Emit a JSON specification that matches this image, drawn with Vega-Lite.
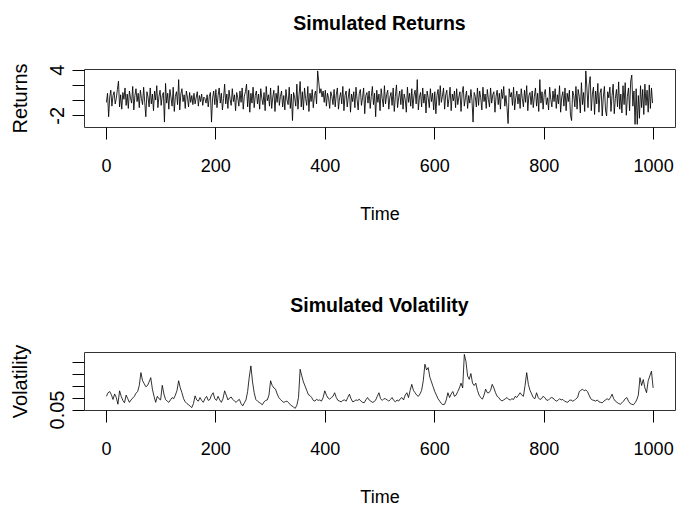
{
"$schema": "https://vega.github.io/schema/vega-lite/v6.json",
"background": "white",
"padding": {"left": 9, "top": 13, "right": 5, "bottom": 5},
"spacing": 71,
"config": {
  "view": {"stroke": "#333", "strokeWidth": 1},
  "axis": {"grid": false, "domain": false, "tickColor": "#000", "tickSize": 12, "labelColor": "#000", "titleColor": "#000", "titleFontWeight": "normal"},
  "axisX": {"labelFont": "Liberation Sans", "labelFontSize": 18, "labelPadding": 18, "titleFont": "Liberation Sans", "titleFontSize": 18, "titleY": 92, "titleBaseline": "alphabetic", "labelFlush": false, "format": "d"},
  "axisY": {"labelFont": "Liberation Sans", "labelFontSize": 20, "labelAngle": -90, "labelAlign": "center", "labelBaseline": "bottom", "labelPadding": 5, "titleFont": "Liberation Sans", "titleFontSize": 20, "titleAngle": -90, "titleAlign": "center", "titleBaseline": "middle", "titleX": -64, "titleY": 29}
},
"datasets": {
"ret": [
{"t":1,"r":-0.3},{"t":3,"r":0.9},{"t":5,"r":-2.2},{"t":7,"r":0.4},{"t":9,"r":1.3},{"t":11,"r":-0.8},{"t":13,"r":0.6},{"t":15,"r":1.1},{"t":17,"r":-0.5},{"t":19,"r":0.2},
{"t":21,"r":1.4},{"t":23,"r":2.5},{"t":25,"r":-0.9},{"t":27,"r":0.7},{"t":29,"r":-1.2},{"t":31,"r":1.0},{"t":33,"r":0.1},{"t":35,"r":1.6},{"t":37,"r":-0.7},{"t":39,"r":0.8},
{"t":41,"r":-1.1},{"t":43,"r":1.2},{"t":45,"r":0.3},{"t":47,"r":-0.4},{"t":49,"r":1.8},{"t":51,"r":-1.3},{"t":53,"r":0.6},{"t":55,"r":1.5},{"t":57,"r":-0.2},{"t":59,"r":0.9},
{"t":61,"r":-1.0},{"t":63,"r":1.3},{"t":65,"r":0.2},{"t":67,"r":-0.6},{"t":69,"r":1.7},{"t":71,"r":-0.3},{"t":73,"r":-2.2},{"t":75,"r":1.1},{"t":77,"r":0.4},{"t":79,"r":-0.9},
{"t":81,"r":1.6},{"t":83,"r":-0.5},{"t":85,"r":0.8},{"t":87,"r":-1.4},{"t":89,"r":1.2},{"t":91,"r":0.0},{"t":93,"r":1.9},{"t":95,"r":-1.0},{"t":97,"r":0.5},{"t":99,"r":1.3},
{"t":101,"r":-0.7},{"t":103,"r":0.6},{"t":105,"r":1.0},{"t":107,"r":-2.9},{"t":109,"r":2.2},{"t":111,"r":-0.4},{"t":113,"r":0.9},{"t":115,"r":-1.2},{"t":117,"r":1.4},{"t":119,"r":0.3},
{"t":121,"r":-0.8},{"t":123,"r":1.7},{"t":125,"r":-1.5},{"t":127,"r":0.5},{"t":129,"r":1.1},{"t":131,"r":-0.6},{"t":133,"r":2.7},{"t":135,"r":-1.3},{"t":137,"r":0.8},{"t":139,"r":1.5},
{"t":141,"r":-0.2},{"t":143,"r":0.7},{"t":145,"r":-1.1},{"t":147,"r":1.2},{"t":149,"r":0.4},{"t":151,"r":-0.9},{"t":153,"r":1.0},{"t":155,"r":-0.3},{"t":157,"r":0.6},{"t":159,"r":-0.6},
{"t":161,"r":0.9},{"t":163,"r":-0.5},{"t":165,"r":0.3},{"t":167,"r":1.1},{"t":169,"r":-0.8},{"t":171,"r":0.6},{"t":173,"r":-0.2},{"t":175,"r":0.8},{"t":177,"r":-0.7},{"t":179,"r":0.4},
{"t":181,"r":0.2},{"t":183,"r":-0.4},{"t":185,"r":0.7},{"t":187,"r":-0.9},{"t":189,"r":0.5},{"t":191,"r":1.0},{"t":193,"r":-2.9},{"t":195,"r":0.3},{"t":197,"r":1.2},{"t":199,"r":-0.6},
{"t":201,"r":1.4},{"t":203,"r":-1.0},{"t":205,"r":0.6},{"t":207,"r":1.6},{"t":209,"r":-0.4},{"t":211,"r":0.9},{"t":213,"r":-1.3},{"t":215,"r":0.2},{"t":217,"r":2.1},{"t":219,"r":-0.5},
{"t":221,"r":0.8},{"t":223,"r":-1.1},{"t":225,"r":1.3},{"t":227,"r":0.1},{"t":229,"r":-0.7},{"t":231,"r":1.5},{"t":233,"r":-0.2},{"t":235,"r":0.7},{"t":237,"r":-1.4},{"t":239,"r":1.0},
{"t":241,"r":0.3},{"t":243,"r":-0.8},{"t":245,"r":1.2},{"t":247,"r":-0.3},{"t":249,"r":1.6},{"t":251,"r":-1.2},{"t":253,"r":0.5},{"t":255,"r":1.1},{"t":257,"r":2.1},{"t":259,"r":-0.9},
{"t":261,"r":1.3},{"t":263,"r":-1.6},{"t":265,"r":0.9},{"t":267,"r":-0.4},{"t":269,"r":1.7},{"t":271,"r":-1.0},{"t":273,"r":0.6},{"t":275,"r":1.2},{"t":277,"r":-0.5},{"t":279,"r":0.8},
{"t":281,"r":-1.2},{"t":283,"r":1.5},{"t":285,"r":0.2},{"t":287,"r":-0.6},{"t":289,"r":1.0},{"t":291,"r":-1.4},{"t":293,"r":1.8},{"t":295,"r":-0.1},{"t":297,"r":0.7},{"t":299,"r":-0.8},
{"t":301,"r":1.6},{"t":303,"r":-1.1},{"t":305,"r":0.4},{"t":307,"r":1.3},{"t":309,"r":-1.5},{"t":311,"r":0.9},{"t":313,"r":-0.3},{"t":315,"r":1.9},{"t":317,"r":-0.7},{"t":319,"r":0.5},
{"t":321,"r":1.2},{"t":323,"r":-0.9},{"t":325,"r":0.6},{"t":327,"r":-1.3},{"t":329,"r":1.4},{"t":331,"r":0.0},{"t":333,"r":-0.6},{"t":335,"r":1.7},{"t":337,"r":-1.1},{"t":339,"r":0.8},
{"t":341,"r":-2.7},{"t":343,"r":1.0},{"t":345,"r":0.3},{"t":347,"r":-0.8},{"t":349,"r":2.1},{"t":351,"r":-1.2},{"t":353,"r":0.7},{"t":355,"r":2.45},{"t":357,"r":-0.9},{"t":359,"r":1.1},
{"t":361,"r":-1.3},{"t":363,"r":1.6},{"t":365,"r":0.2},{"t":367,"r":-0.7},{"t":369,"r":1.8},{"t":371,"r":-1.5},{"t":373,"r":0.9},{"t":375,"r":-0.2},{"t":377,"r":1.4},{"t":379,"r":-1.0},
{"t":381,"r":0.6},{"t":383,"r":1.2},{"t":385,"r":-0.5},{"t":387,"r":3.85},{"t":389,"r":2.4},{"t":391,"r":0.9},{"t":393,"r":1.5},{"t":395,"r":0.4},{"t":397,"r":1.2},{"t":399,"r":-0.3},
{"t":401,"r":1.3},{"t":403,"r":-0.8},{"t":405,"r":0.9},{"t":407,"r":0.2},{"t":409,"r":-1.1},{"t":411,"r":1.1},{"t":413,"r":0.5},{"t":415,"r":-0.6},{"t":417,"r":1.4},{"t":419,"r":-0.9},
{"t":421,"r":0.7},{"t":423,"r":1.6},{"t":425,"r":-1.2},{"t":427,"r":0.3},{"t":429,"r":1.0},{"t":431,"r":-0.5},{"t":433,"r":1.8},{"t":435,"r":-1.4},{"t":437,"r":0.6},{"t":439,"r":1.2},
{"t":441,"r":-0.9},{"t":443,"r":0.4},{"t":445,"r":1.5},{"t":447,"r":-1.6},{"t":449,"r":0.8},{"t":451,"r":-0.2},{"t":453,"r":1.1},{"t":455,"r":-1.0},{"t":457,"r":1.7},{"t":459,"r":0.1},
{"t":461,"r":-1.3},{"t":463,"r":0.9},{"t":465,"r":1.4},{"t":467,"r":-0.7},{"t":469,"r":0.3},{"t":471,"r":1.6},{"t":473,"r":-1.8},{"t":475,"r":0.6},{"t":477,"r":1.0},{"t":479,"r":-0.4},
{"t":481,"r":1.2},{"t":483,"r":-1.1},{"t":485,"r":0.5},{"t":487,"r":1.8},{"t":489,"r":-0.6},{"t":491,"r":0.9},{"t":493,"r":-2.2},{"t":495,"r":1.3},{"t":497,"r":-0.3},{"t":499,"r":0.8},
{"t":501,"r":-1.4},{"t":503,"r":1.5},{"t":505,"r":0.2},{"t":507,"r":-0.9},{"t":509,"r":1.9},{"t":511,"r":-0.5},{"t":513,"r":0.7},{"t":515,"r":1.3},{"t":517,"r":-1.2},{"t":519,"r":0.4},
{"t":521,"r":1.0},{"t":523,"r":-0.7},{"t":525,"r":1.6},{"t":527,"r":-1.5},{"t":529,"r":0.5},{"t":531,"r":2.0},{"t":533,"r":-1.0},{"t":535,"r":0.3},{"t":537,"r":1.2},{"t":539,"r":-0.6},
{"t":541,"r":1.4},{"t":543,"r":-1.2},{"t":545,"r":0.8},{"t":547,"r":0.1},{"t":549,"r":-1.6},{"t":551,"r":1.7},{"t":553,"r":-0.3},{"t":555,"r":0.9},{"t":557,"r":-0.8},{"t":559,"r":1.5},
{"t":561,"r":-1.1},{"t":563,"r":0.6},{"t":565,"r":1.3},{"t":567,"r":-0.5},{"t":569,"r":2.7},{"t":571,"r":-1.3},{"t":573,"r":0.4},{"t":575,"r":1.0},{"t":577,"r":-0.9},{"t":579,"r":1.6},
{"t":581,"r":-0.4},{"t":583,"r":0.8},{"t":585,"r":-1.7},{"t":587,"r":1.2},{"t":589,"r":0.3},{"t":591,"r":-1.0},{"t":593,"r":1.5},{"t":595,"r":-0.2},{"t":597,"r":0.9},{"t":599,"r":-1.3},
{"t":601,"r":1.1},{"t":603,"r":-1.8},{"t":605,"r":0.6},{"t":607,"r":1.4},{"t":609,"r":-0.7},{"t":611,"r":1.9},{"t":613,"r":-0.3},{"t":615,"r":0.5},{"t":617,"r":1.6},{"t":619,"r":-1.2},
{"t":621,"r":0.7},{"t":623,"r":1.3},{"t":625,"r":-0.9},{"t":627,"r":0.2},{"t":629,"r":1.7},{"t":631,"r":-1.4},{"t":633,"r":0.8},{"t":635,"r":-0.1},{"t":637,"r":1.2},{"t":639,"r":-1.0},
{"t":641,"r":1.5},{"t":643,"r":-0.6},{"t":645,"r":0.4},{"t":647,"r":1.1},{"t":649,"r":-1.5},{"t":651,"r":0.9},{"t":653,"r":1.8},{"t":655,"r":-0.8},{"t":657,"r":0.3},{"t":659,"r":1.2},
{"t":661,"r":-1.1},{"t":663,"r":0.6},{"t":665,"r":-0.4},{"t":667,"r":1.4},{"t":669,"r":0.0},{"t":671,"r":-2.9},{"t":673,"r":1.0},{"t":675,"r":0.5},{"t":677,"r":-0.9},{"t":679,"r":1.6},
{"t":681,"r":-0.7},{"t":683,"r":1.2},{"t":685,"r":0.3},{"t":687,"r":-1.3},{"t":689,"r":1.7},{"t":691,"r":-0.2},{"t":693,"r":0.8},{"t":695,"r":-1.1},{"t":697,"r":1.4},{"t":699,"r":0.1},
{"t":701,"r":-0.9},{"t":703,"r":1.6},{"t":705,"r":-0.4},{"t":707,"r":0.7},{"t":709,"r":1.1},{"t":711,"r":-1.6},{"t":713,"r":0.5},{"t":715,"r":1.3},{"t":717,"r":-0.6},{"t":719,"r":0.9},
{"t":721,"r":-1.2},{"t":723,"r":1.4},{"t":725,"r":0.2},{"t":727,"r":1.8},{"t":729,"r":-0.8},{"t":731,"r":0.6},{"t":733,"r":-1.0},{"t":735,"r":-3.1},{"t":737,"r":1.5},{"t":739,"r":0.4},
{"t":741,"r":1.0},{"t":743,"r":-0.7},{"t":745,"r":1.7},{"t":747,"r":-1.3},{"t":749,"r":0.3},{"t":751,"r":1.2},{"t":753,"r":-0.5},{"t":755,"r":0.8},{"t":757,"r":-1.1},{"t":759,"r":1.5},
{"t":761,"r":0.2},{"t":763,"r":-0.9},{"t":765,"r":1.3},{"t":767,"r":-0.3},{"t":769,"r":1.9},{"t":771,"r":-1.4},{"t":773,"r":0.6},{"t":775,"r":1.0},{"t":777,"r":-0.6},{"t":779,"r":1.2},
{"t":781,"r":-1.0},{"t":783,"r":0.5},{"t":785,"r":1.6},{"t":787,"r":-0.8},{"t":789,"r":0.9},{"t":791,"r":-1.5},{"t":793,"r":2.7},{"t":795,"r":-0.4},{"t":797,"r":1.1},{"t":799,"r":-1.2},
{"t":801,"r":0.8},{"t":803,"r":1.4},{"t":805,"r":-0.6},{"t":807,"r":0.3},{"t":809,"r":-1.3},{"t":811,"r":1.7},{"t":813,"r":0.1},{"t":815,"r":-0.9},{"t":817,"r":1.2},{"t":819,"r":-0.2},
{"t":821,"r":1.5},{"t":823,"r":-1.1},{"t":825,"r":0.7},{"t":827,"r":-0.5},{"t":829,"r":1.9},{"t":831,"r":-1.6},{"t":833,"r":0.4},{"t":835,"r":1.1},{"t":837,"r":-0.8},{"t":839,"r":1.6},
{"t":841,"r":-1.4},{"t":843,"r":0.9},{"t":845,"r":-0.2},{"t":847,"r":1.3},{"t":849,"r":-2.0},{"t":851,"r":-2.7},{"t":853,"r":1.2},{"t":855,"r":0.6},{"t":857,"r":-0.9},{"t":859,"r":1.8},
{"t":861,"r":-1.2},{"t":863,"r":1.4},{"t":865,"r":0.5},{"t":867,"r":-1.7},{"t":869,"r":2.3},{"t":871,"r":-0.6},{"t":873,"r":1.0},{"t":875,"r":-1.5},{"t":877,"r":3.85},{"t":879,"r":1.6},
{"t":881,"r":-1.0},{"t":883,"r":2.0},{"t":885,"r":3.1},{"t":887,"r":-1.4},{"t":889,"r":0.8},{"t":891,"r":1.7},{"t":893,"r":-1.9},{"t":895,"r":1.2},{"t":897,"r":-0.5},{"t":899,"r":2.2},
{"t":901,"r":-1.6},{"t":903,"r":0.9},{"t":905,"r":1.5},{"t":907,"r":-2.1},{"t":909,"r":0.4},{"t":911,"r":1.8},{"t":913,"r":-1.3},{"t":915,"r":-2.1},{"t":917,"r":1.1},{"t":919,"r":0.3},
{"t":921,"r":1.7},{"t":923,"r":-1.5},{"t":925,"r":0.6},{"t":927,"r":2.1},{"t":929,"r":-1.8},{"t":931,"r":0.2},{"t":933,"r":1.4},{"t":935,"r":-0.9},{"t":937,"r":2.4},{"t":939,"r":-1.2},
{"t":941,"r":0.8},{"t":943,"r":-1.7},{"t":945,"r":1.9},{"t":947,"r":-0.6},{"t":949,"r":2.3},{"t":951,"r":-2.0},{"t":953,"r":0.5},{"t":955,"r":1.6},{"t":957,"r":-1.4},{"t":959,"r":2.5},
{"t":961,"r":3.3},{"t":963,"r":-0.8},{"t":965,"r":1.2},{"t":967,"r":-3.2},{"t":969,"r":1.5},{"t":971,"r":-3.2},{"t":973,"r":0.6},{"t":975,"r":-2.4},{"t":977,"r":1.9},{"t":979,"r":-1.0},
{"t":981,"r":1.4},{"t":983,"r":-1.9},{"t":985,"r":2.1},{"t":987,"r":-0.7},{"t":989,"r":1.3},{"t":991,"r":-1.6},{"t":993,"r":2.0},{"t":995,"r":-1.1},{"t":997,"r":1.6},{"t":999,"r":-0.4}
],
"vol": [
{"t":1,"v":0.105},{"t":4,"v":0.12},{"t":7,"v":0.125},{"t":10,"v":0.112},{"t":13,"v":0.092},{"t":16,"v":0.115},{"t":19,"v":0.1},{"t":22,"v":0.072},{"t":25,"v":0.128},{"t":28,"v":0.105},
{"t":31,"v":0.088},{"t":34,"v":0.078},{"t":37,"v":0.11},{"t":40,"v":0.095},{"t":43,"v":0.08},{"t":46,"v":0.09},{"t":49,"v":0.098},{"t":52,"v":0.105},{"t":55,"v":0.118},{"t":58,"v":0.125},
{"t":61,"v":0.15},{"t":64,"v":0.204},{"t":67,"v":0.17},{"t":70,"v":0.158},{"t":73,"v":0.145},{"t":76,"v":0.15},{"t":79,"v":0.165},{"t":82,"v":0.183},{"t":85,"v":0.135},{"t":88,"v":0.105},
{"t":91,"v":0.08},{"t":94,"v":0.105},{"t":97,"v":0.095},{"t":100,"v":0.09},{"t":103,"v":0.151},{"t":106,"v":0.115},{"t":109,"v":0.092},{"t":112,"v":0.085},{"t":115,"v":0.08},{"t":118,"v":0.09},
{"t":121,"v":0.1},{"t":124,"v":0.095},{"t":127,"v":0.11},{"t":130,"v":0.13},{"t":133,"v":0.17},{"t":136,"v":0.14},{"t":139,"v":0.12},{"t":142,"v":0.095},{"t":145,"v":0.082},{"t":148,"v":0.075},
{"t":151,"v":0.07},{"t":154,"v":0.064},{"t":157,"v":0.058},{"t":160,"v":0.075},{"t":163,"v":0.107},{"t":166,"v":0.09},{"t":169,"v":0.085},{"t":172,"v":0.1},{"t":175,"v":0.088},{"t":178,"v":0.08},
{"t":181,"v":0.095},{"t":184,"v":0.105},{"t":187,"v":0.088},{"t":190,"v":0.092},{"t":193,"v":0.11},{"t":196,"v":0.12},{"t":199,"v":0.095},{"t":202,"v":0.088},{"t":205,"v":0.105},{"t":208,"v":0.09},
{"t":211,"v":0.08},{"t":214,"v":0.095},{"t":217,"v":0.128},{"t":220,"v":0.11},{"t":223,"v":0.09},{"t":226,"v":0.098},{"t":229,"v":0.102},{"t":232,"v":0.092},{"t":235,"v":0.085},{"t":238,"v":0.08},
{"t":241,"v":0.088},{"t":244,"v":0.092},{"t":247,"v":0.075},{"t":250,"v":0.065},{"t":253,"v":0.078},{"t":256,"v":0.09},{"t":259,"v":0.125},{"t":262,"v":0.185},{"t":265,"v":0.232},{"t":268,"v":0.165},
{"t":271,"v":0.12},{"t":274,"v":0.092},{"t":277,"v":0.085},{"t":280,"v":0.08},{"t":283,"v":0.075},{"t":286,"v":0.07},{"t":289,"v":0.082},{"t":292,"v":0.088},{"t":295,"v":0.09},{"t":298,"v":0.11},
{"t":301,"v":0.17},{"t":304,"v":0.15},{"t":307,"v":0.14},{"t":310,"v":0.135},{"t":313,"v":0.115},{"t":316,"v":0.1},{"t":319,"v":0.092},{"t":322,"v":0.085},{"t":325,"v":0.08},{"t":328,"v":0.083},
{"t":331,"v":0.085},{"t":334,"v":0.078},{"t":337,"v":0.07},{"t":340,"v":0.065},{"t":343,"v":0.06},{"t":346,"v":0.055},{"t":349,"v":0.068},{"t":352,"v":0.1},{"t":355,"v":0.218},{"t":358,"v":0.19},
{"t":361,"v":0.165},{"t":364,"v":0.148},{"t":367,"v":0.13},{"t":370,"v":0.112},{"t":373,"v":0.108},{"t":376,"v":0.1},{"t":379,"v":0.088},{"t":382,"v":0.085},{"t":385,"v":0.093},{"t":388,"v":0.088},
{"t":391,"v":0.09},{"t":394,"v":0.085},{"t":397,"v":0.1},{"t":400,"v":0.128},{"t":403,"v":0.11},{"t":406,"v":0.098},{"t":409,"v":0.093},{"t":412,"v":0.1},{"t":415,"v":0.105},{"t":418,"v":0.12},
{"t":421,"v":0.1},{"t":424,"v":0.088},{"t":427,"v":0.085},{"t":430,"v":0.082},{"t":433,"v":0.088},{"t":436,"v":0.09},{"t":439,"v":0.085},{"t":442,"v":0.1},{"t":445,"v":0.114},{"t":448,"v":0.095},
{"t":451,"v":0.082},{"t":454,"v":0.085},{"t":457,"v":0.09},{"t":460,"v":0.088},{"t":463,"v":0.093},{"t":466,"v":0.085},{"t":469,"v":0.08},{"t":472,"v":0.078},{"t":475,"v":0.09},{"t":478,"v":0.1},
{"t":481,"v":0.09},{"t":484,"v":0.085},{"t":487,"v":0.08},{"t":490,"v":0.082},{"t":493,"v":0.09},{"t":496,"v":0.105},{"t":499,"v":0.12},{"t":502,"v":0.095},{"t":505,"v":0.088},{"t":508,"v":0.095},
{"t":511,"v":0.095},{"t":514,"v":0.09},{"t":517,"v":0.085},{"t":520,"v":0.092},{"t":523,"v":0.1},{"t":526,"v":0.088},{"t":529,"v":0.082},{"t":532,"v":0.09},{"t":535,"v":0.085},{"t":538,"v":0.095},
{"t":541,"v":0.1},{"t":544,"v":0.09},{"t":547,"v":0.11},{"t":550,"v":0.12},{"t":553,"v":0.1},{"t":556,"v":0.13},{"t":559,"v":0.155},{"t":562,"v":0.13},{"t":565,"v":0.12},{"t":568,"v":0.11},
{"t":571,"v":0.105},{"t":574,"v":0.115},{"t":577,"v":0.13},{"t":580,"v":0.17},{"t":583,"v":0.239},{"t":586,"v":0.215},{"t":589,"v":0.225},{"t":592,"v":0.185},{"t":595,"v":0.165},{"t":598,"v":0.145},
{"t":601,"v":0.125},{"t":604,"v":0.11},{"t":607,"v":0.095},{"t":610,"v":0.085},{"t":613,"v":0.075},{"t":616,"v":0.07},{"t":619,"v":0.072},{"t":622,"v":0.09},{"t":625,"v":0.12},{"t":628,"v":0.1},
{"t":631,"v":0.115},{"t":634,"v":0.125},{"t":637,"v":0.105},{"t":640,"v":0.11},{"t":643,"v":0.125},{"t":646,"v":0.14},{"t":649,"v":0.16},{"t":652,"v":0.14},{"t":655,"v":0.28},{"t":658,"v":0.25},
{"t":661,"v":0.19},{"t":664,"v":0.176},{"t":667,"v":0.2},{"t":670,"v":0.16},{"t":673,"v":0.15},{"t":676,"v":0.16},{"t":679,"v":0.13},{"t":682,"v":0.11},{"t":685,"v":0.1},{"t":688,"v":0.093},
{"t":691,"v":0.11},{"t":694,"v":0.135},{"t":697,"v":0.12},{"t":700,"v":0.12},{"t":703,"v":0.13},{"t":706,"v":0.155},{"t":709,"v":0.14},{"t":712,"v":0.12},{"t":715,"v":0.105},{"t":718,"v":0.1},
{"t":721,"v":0.09},{"t":724,"v":0.086},{"t":727,"v":0.09},{"t":730,"v":0.095},{"t":733,"v":0.1},{"t":736,"v":0.092},{"t":739,"v":0.09},{"t":742,"v":0.095},{"t":745,"v":0.092},{"t":748,"v":0.105},
{"t":751,"v":0.1},{"t":754,"v":0.11},{"t":757,"v":0.12},{"t":760,"v":0.11},{"t":763,"v":0.105},{"t":766,"v":0.15},{"t":769,"v":0.204},{"t":772,"v":0.155},{"t":775,"v":0.13},{"t":778,"v":0.115},
{"t":781,"v":0.1},{"t":784,"v":0.095},{"t":787,"v":0.12},{"t":790,"v":0.1},{"t":793,"v":0.092},{"t":796,"v":0.095},{"t":799,"v":0.105},{"t":802,"v":0.1},{"t":805,"v":0.09},{"t":808,"v":0.088},
{"t":811,"v":0.095},{"t":814,"v":0.1},{"t":817,"v":0.098},{"t":820,"v":0.09},{"t":823,"v":0.085},{"t":826,"v":0.088},{"t":829,"v":0.095},{"t":832,"v":0.09},{"t":835,"v":0.092},{"t":838,"v":0.085},
{"t":841,"v":0.082},{"t":844,"v":0.08},{"t":847,"v":0.088},{"t":850,"v":0.09},{"t":853,"v":0.085},{"t":856,"v":0.088},{"t":859,"v":0.095},{"t":862,"v":0.1},{"t":865,"v":0.125},{"t":868,"v":0.13},
{"t":871,"v":0.135},{"t":874,"v":0.128},{"t":877,"v":0.132},{"t":880,"v":0.125},{"t":883,"v":0.11},{"t":886,"v":0.095},{"t":889,"v":0.09},{"t":892,"v":0.088},{"t":895,"v":0.085},{"t":898,"v":0.09},
{"t":901,"v":0.082},{"t":904,"v":0.08},{"t":907,"v":0.078},{"t":910,"v":0.085},{"t":913,"v":0.09},{"t":916,"v":0.095},{"t":919,"v":0.09},{"t":922,"v":0.1},{"t":925,"v":0.114},{"t":928,"v":0.095},
{"t":931,"v":0.085},{"t":934,"v":0.08},{"t":937,"v":0.075},{"t":940,"v":0.072},{"t":943,"v":0.078},{"t":946,"v":0.085},{"t":949,"v":0.095},{"t":952,"v":0.1},{"t":955,"v":0.085},{"t":958,"v":0.075},
{"t":961,"v":0.072},{"t":964,"v":0.07},{"t":967,"v":0.078},{"t":970,"v":0.09},{"t":973,"v":0.11},{"t":976,"v":0.183},{"t":979,"v":0.15},{"t":982,"v":0.175},{"t":985,"v":0.14},{"t":988,"v":0.12},
{"t":991,"v":0.17},{"t":994,"v":0.19},{"t":997,"v":0.21},{"t":1000,"v":0.14}
]
},
"vconcat": [
  {
    "width": 591, "height": 58,
    "title": {"text": "Simulated Returns", "font": "Liberation Sans", "fontSize": 19.5, "fontWeight": "bold", "color": "#000", "anchor": "middle", "baseline": "alphabetic", "offset": 13, "frame": "group"},
    "data": {"name": "ret"},
    "mark": {"type": "line", "color": "#000", "strokeWidth": 0.85, "clip": true},
    "encoding": {
      "x": {"field": "t", "type": "quantitative", "scale": {"domain": [-40, 1040], "nice": false, "zero": false}, "axis": {"values": [0, 200, 400, 600, 800, 1000], "title": "Time"}},
      "y": {"field": "r", "type": "quantitative", "scale": {"domain": [-3.55, 4.1], "nice": false, "zero": false}, "axis": {"values": [-2, 0, 2, 4], "labelExpr": "datum.value == 4 ? '4' : datum.value == -2 ? '-2' : ''", "title": "Returns"}}
    }
  },
  {
    "width": 591, "height": 58,
    "title": {"text": "Simulated Volatility", "font": "Liberation Sans", "fontSize": 19.5, "fontWeight": "bold", "color": "#000", "anchor": "middle", "baseline": "alphabetic", "offset": 13, "frame": "group"},
    "data": {"name": "vol"},
    "mark": {"type": "line", "color": "#000", "strokeWidth": 0.8, "clip": true},
    "encoding": {
      "x": {"field": "t", "type": "quantitative", "scale": {"domain": [-40, 1040], "nice": false, "zero": false}, "axis": {"values": [0, 200, 400, 600, 800, 1000], "title": "Time"}},
      "y": {"field": "v", "type": "quantitative", "scale": {"domain": [0.048, 0.29], "nice": false, "zero": false}, "axis": {"values": [0.05, 0.1, 0.15, 0.2, 0.25], "labelExpr": "datum.value == 0.05 ? '0.05' : ''", "title": "Volatility"}}
    }
  }
]
}
